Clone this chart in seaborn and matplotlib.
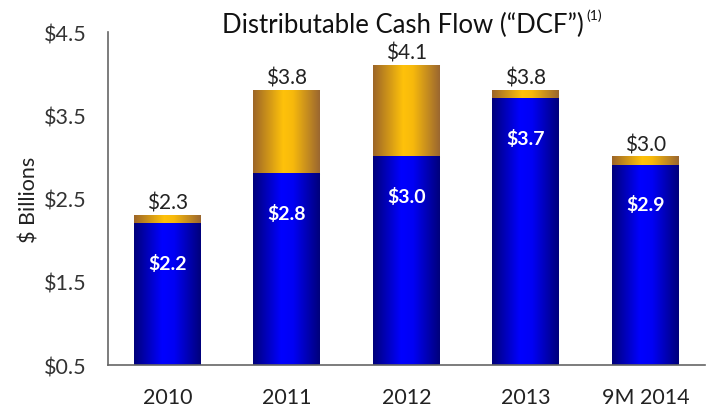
import numpy as np
import pandas as pd
import seaborn as sns
import matplotlib.pyplot as plt
from matplotlib.colors import LinearSegmentedColormap

years = ['2010', '2011', '2012', '2013', '9M 2014']
base_dcf = [2.2, 2.8, 3.0, 3.7, 2.9]
total_dcf = [2.3, 3.8, 4.1, 3.8, 3.0]
base_labels = ['$2.2', '$2.8', '$3.0', '$3.7', '$2.9']
total_labels = ['$2.3', '$3.8', '$4.1', '$3.8', '$3.0']
y_ticks = [0.5, 1.5, 2.5, 3.5, 4.5]

df = pd.DataFrame({'year': years, 'base': base_dcf, 'total': total_dcf})

sns.set_style('white')
plt.rcParams['font.family'] = ['Lato', 'DejaVu Sans']

fig = plt.figure(figsize=(7.18, 4.10), dpi=100)
ax = fig.add_axes([0.150, 0.107, 0.832, 0.8125])

# total first (gold), then base on top (blue)
sns.barplot(data=df, x='year', y='total', color='#ffc000', width=0.56, ax=ax)
n_gold = len(ax.patches)
sns.barplot(data=df, x='year', y='base', color='#0000ff', width=0.56, ax=ax)

blue_cmap = LinearSegmentedColormap.from_list(
    'blue', [(0, '#00007a'), (0.42, '#0000ff'), (0.6, '#0000f5'), (1, '#00007a')])
gold_cmap = LinearSegmentedColormap.from_list(
    'gold', [(0, '#9c6528'), (0.45, '#ffc20a'), (0.6, '#f7b90c'), (1, '#9a6630')])
grad = np.linspace(0, 1, 256).reshape(1, -1)

for i, p in enumerate(ax.patches):
    x0, w = p.get_x(), p.get_width()
    y0, h = p.get_y(), p.get_height()
    cm = gold_cmap if i < n_gold else blue_cmap
    ax.imshow(grad, cmap=cm, aspect='auto', extent=[x0, x0 + w, y0, y0 + h],
              zorder=p.get_zorder() + 0.1 * (i >= n_gold) + 0.05, interpolation='bicubic')

ax.set_xlim(-0.5, len(years) - 0.5)
ax.set_ylim(0.5, 4.5)
ax.set_yticks(y_ticks)
ax.set_yticklabels([f'${v:.1f}' for v in y_ticks], fontsize=15.5, color='#333333')
ax.set_xticks(range(len(years)))
ax.set_xticklabels(years, fontsize=15.5, color='#222222')
ax.tick_params(axis='x', length=0, pad=16)
ax.set_xticks(np.arange(0.5, len(years) - 0.5 + 1e-9, 1.0), minor=True)
ax.tick_params(axis='x', which='minor', length=6, width=1.2, color='#555555', direction='out')
ax.tick_params(axis='y', length=5, width=1.2, color='#555555', direction='out', pad=10)
ax.set_xlabel('')
ax.set_ylabel('$ Billions', fontsize=15.5, color='#222222', labelpad=3)

for s in ['top', 'right']:
    ax.spines[s].set_visible(False)
for s in ['left', 'bottom']:
    ax.spines[s].set_color('#666666')
    ax.spines[s].set_linewidth(1.2)

for i in range(len(years)):
    ax.text(i, base_dcf[i] - 0.47, base_labels[i], ha='center', va='center',
            fontsize=14, fontweight='bold', color='white', zorder=10)
    ax.text(i, total_dcf[i] + 0.03, total_labels[i], ha='center', va='bottom',
            fontsize=15, color='#222222', zorder=10)

title = fig.text(0.5606, 1 - 33 / 410, 'Distributable Cash Flow (\u201cDCF\u201d)', ha='center',
                 va='baseline', fontsize=18.5, color='#111111')
fig.canvas.draw()
bb = title.get_window_extent().transformed(fig.transFigure.inverted())
fig.text(bb.x1 + 0.004, 1 - 9 / 410, '(1)', fontsize=10, color='#111111', va='top', ha='left')

fig.savefig('out.png', dpi=100)
